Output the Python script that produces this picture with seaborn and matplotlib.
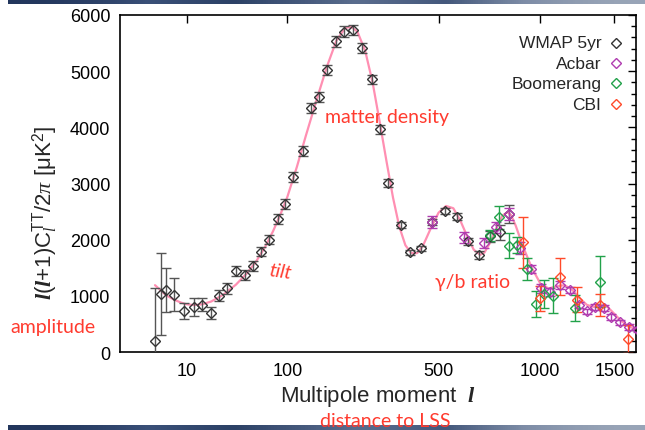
import numpy as np
import matplotlib
matplotlib.use("Agg")
import matplotlib.pyplot as plt
import seaborn as sns

# theory curve
curve_l = [2, 3, 4, 6, 8, 10, 13, 17, 22, 30, 40, 50, 60, 70, 80, 90, 100, 115, 130,
           150, 170, 190, 210, 225, 240, 260, 280, 300, 320, 340, 360, 380, 400, 420,
           440, 470, 500, 530, 560, 590, 620, 650, 680, 700, 730, 760, 790, 815, 835,
           860, 900, 950, 1000, 1050, 1100, 1150, 1200, 1250, 1300, 1350, 1400, 1450,
           1500, 1550, 1600, 1650, 1700]
curve_d = [1190, 1090, 1010, 930, 880, 850, 835, 850, 900, 1020, 1200, 1400, 1620,
           1870, 2150, 2450, 2760, 3300, 3850, 4500, 5080, 5540, 5770, 5790, 5700,
           5360, 4800, 4100, 3400, 2750, 2230, 1900, 1760, 1760, 1880, 2200, 2480,
           2600, 2560, 2340, 2060, 1820, 1730, 1770, 1960, 2210, 2430, 2490, 2440,
           2250, 1880, 1500, 1220, 1130, 1170, 1190, 1110, 960, 840, 800, 830, 800,
           680, 560, 470, 420, 390]

wmap_l = [2, 3, 4, 6, 9, 13, 17, 22, 27, 33, 40, 48, 56, 65, 75, 86, 97, 109, 125,
          139, 155, 171, 190, 208, 230, 252, 277, 302, 325, 366, 396, 435, 474, 524,
          575, 626, 674, 725, 775, 822]
wmap_d = [201, 1033, 1109, 1020, 730, 796, 842, 700, 1002, 1134, 1447, 1376, 1536,
          1786, 2000, 2368, 2635, 3115, 3573, 4339, 4545, 5021, 5531, 5703, 5733,
          5418, 4855, 3964, 3010, 2266, 1775, 1846, 2309, 2510, 2409, 1971, 1727,
          2060, 2131, 2457]
wmap_err = [930, 730, 390, 290, 150, 160, 115, 110, 95, 95, 90, 90, 85, 85, 85, 85,
            85, 90, 90, 90, 90, 95, 95, 95, 95, 90, 85, 80, 70, 50, 45, 45, 55, 55,
            60, 65, 70, 100, 130, 160]

acbar_l = [474, 608, 696, 757, 822, 886, 945, 1004, 1060, 1119, 1183, 1243, 1301,
           1360, 1420, 1478, 1541, 1617, 1690]
acbar_d = [2309, 2042, 1935, 2220, 2457, 1850, 1478, 1134, 1074, 1193, 1104, 837,
           724, 806, 778, 628, 528, 450, 400]
acbar_err = [110, 100, 90, 95, 110, 100, 70, 80, 70, 70, 60, 60, 50, 50, 50, 50, 50,
             50, 50]

boom_l = [725, 772, 824, 869, 922, 974, 1020, 1075, 1217, 1396]
boom_d = [2080, 2398, 1892, 1905, 1478, 854, 1033, 1003, 778, 1252]
boom_err = [100, 210, 220, 150, 195, 235, 250, 315, 230, 450]

cbi_l = [898, 1000, 1119, 1233, 1396, 1603]
cbi_d = [1953, 956, 1341, 931, 837, 231]
cbi_err = [450, 220, 330, 220, 190, 250]

x_ticks = [10, 100, 500, 1000, 1500]

sns.set_style("white")
plt.rcParams["font.family"] = ["Liberation Sans", "DejaVu Sans"]
plt.rcParams["mathtext.fontset"] = "custom"
plt.rcParams["mathtext.rm"] = "Liberation Sans"
plt.rcParams["mathtext.sf"] = "Liberation Sans"
plt.rcParams["mathtext.it"] = "Liberation Serif:italic"
plt.rcParams["mathtext.bf"] = "Liberation Sans:bold"
plt.rcParams["mathtext.bfit"] = "Liberation Serif:italic:bold"

fig = plt.figure(figsize=(6.45, 4.31), dpi=100)
ax = fig.add_axes([120 / 645, 1 - 353 / 431, 516 / 645, 337 / 431])

# dark strips from the slide background
strip = np.array([[0.0, 0.15, 0.35, 0.45, 0.6, 0.8, 1.0]])
cmap = matplotlib.colors.LinearSegmentedColormap.from_list(
    "bg", ["#22365c", "#3a5078", "#2c4166", "#5a6d8e", "#44587c", "#7d8ca6", "#9aa6b8"])
for y0, h in [(1 - 5 / 431, 5 / 431), (0, 5 / 431)]:
    sax = fig.add_axes([8 / 645, y0, 1 - 8 / 645, h])
    sax.imshow(strip, aspect="auto", cmap=cmap, interpolation="bicubic")
    sax.axis("off")

sns.lineplot(x=curve_l, y=curve_d, color="#ff8fb2", linewidth=1.6, ax=ax, zorder=1)

series = [
    ("WMAP 5yr", wmap_l, wmap_d, wmap_err, "#333333", "#555555"),
    ("Acbar", acbar_l, acbar_d, acbar_err, "#b03cb0", "#b03cb0"),
    ("Boomerang", boom_l, boom_d, boom_err, "#22a24a", "#22a24a"),
    ("CBI", cbi_l, cbi_d, cbi_err, "#ff4a2a", "#ff4a2a"),
]
for name, l, d, err, c, ec in series:
    ax.errorbar(l, d, yerr=err, fmt="D", ms=5, mfc="none", mec=c, mew=1.0,
                ecolor=ec, elinewidth=1.0, capsize=3.5, capthick=1.0, zorder=3)

ax.set_xscale("function", functions=(lambda x: np.sign(x) * np.abs(x) ** 0.4,
                                     lambda x: np.sign(x) * np.abs(x) ** 2.5))
ax.set_xlim(0, 1670)
ax.set_ylim(0, 6000)
ax.set_xticks(x_ticks)
ax.set_xticklabels([str(t) for t in x_ticks])
ax.xaxis.set_minor_locator(matplotlib.ticker.NullLocator())
ax.set_yticks(range(0, 6001, 1000))
ax.yaxis.set_minor_locator(matplotlib.ticker.MultipleLocator(200))
ax.tick_params(which="both", direction="in", top=True, right=True, width=1.0,
               labelsize=13, colors="black")
ax.tick_params(which="major", length=6, pad=7)
ax.tick_params(which="minor", length=3.5)
for s in ax.spines.values():
    s.set_color("black")
    s.set_linewidth(1.2)

ax.set_xlabel(r"Multipole moment  $\mathbfit{l}$", fontsize=16, labelpad=3)
ax.set_ylabel(r"$\mathbfit{l}(\mathbfit{l}$+1)C$_{\mathit{l}}^{\mathrm{TT}}$/2$\pi$ [μK$^2$]",
              fontsize=16)
ax.yaxis.set_label_coords(-0.115, 0.415)

# legend drawn by hand: right-aligned text, marker on the right
leg_y = [0.917, 0.857, 0.797, 0.735]
for (name, l, d, err, c, ec), yy in zip(series, leg_y):
    ax.text(0.933, yy, name, transform=ax.transAxes, ha="right", va="center",
            fontsize=12.5)
    ax.plot([0.961], [yy], "D", ms=5, mfc="none", mec=c, mew=1.0,
            transform=ax.transAxes, clip_on=False)

red = "#ff3b2f"
notes = dict(color=red, family=["Lato", "DejaVu Sans"], fontsize=14)
ax.text(0.397, 0.700, "matter density", transform=ax.transAxes, ha="left",
        va="center", **notes)
ax.text(0.287, 0.240, "tilt", transform=ax.transAxes, ha="left", va="center",
        style="italic", rotation=-8, **notes)
ax.text(0.610, 0.208, "γ/b ratio", transform=ax.transAxes, ha="left",
        va="center", **notes)
fig.text(10 / 645, 1 - 328 / 431, "amplitude", ha="left", va="center", **notes)
fig.text(385 / 645, 1 - 422 / 431, "distance to LSS", ha="center", va="center",
         **notes)

fig.savefig("out.png", dpi=100)
